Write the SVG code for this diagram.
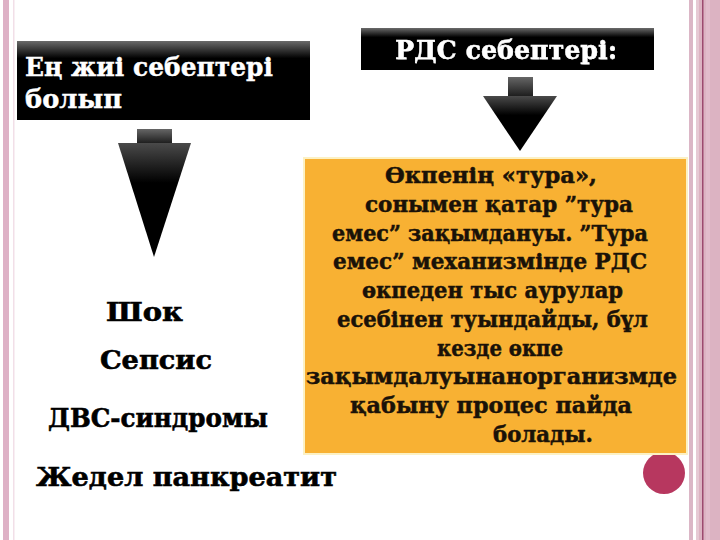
<svg xmlns="http://www.w3.org/2000/svg" width="720" height="540" viewBox="0 0 720 540">
<defs>
<linearGradient id="boxg" x1="0" y1="0" x2="0" y2="1">
<stop offset="0" stop-color="#6a6a6a"/>
<stop offset="0.22" stop-color="#000"/>
<stop offset="1" stop-color="#000"/>
</linearGradient>
<linearGradient id="stemg" x1="0" y1="0" x2="0" y2="1">
<stop offset="0" stop-color="#666"/>
<stop offset="1" stop-color="#1a1a1a"/>
</linearGradient>
<linearGradient id="trig" x1="0" y1="0" x2="0" y2="1">
<stop offset="0" stop-color="#4a4a4a"/>
<stop offset="0.35" stop-color="#000"/>
<stop offset="1" stop-color="#000"/>
</linearGradient>
<filter id="sh" x="-5%" y="-20%" width="110%" height="140%">
<feDropShadow dx="1.5" dy="1.5" stdDeviation="0.6" flood-color="#000" flood-opacity="1"/>
</filter>
</defs>
<style>
.t{font-family:"DejaVu Serif","Liberation Serif","Times New Roman",serif;font-weight:bold}
.w{fill:#fff;stroke:#fff;stroke-width:0.4}
.o{fill:#1a1208;stroke:#1a1208;stroke-width:0.5;font-size:22px}
.l{font-size:26px;fill:#000;stroke:#000;stroke-width:0.6}
</style>
<rect x="0" y="0" width="720" height="540" fill="#fff"/>
<g id="borders">
<rect x="3" y="0" width="6" height="540" fill="#deb1c6"/>
<rect x="13" y="0" width="1.5" height="540" fill="#f2dfe8"/>
<rect x="689" y="0" width="4" height="540" fill="#dbb6c6"/>
<rect x="696" y="0" width="24" height="540" fill="#dcb3c2"/>
<rect x="696" y="0" width="3" height="540" fill="#e6c9d4"/>
<rect x="702" y="0" width="1.5" height="540" fill="#9c4a6e"/>
<rect x="706" y="0" width="4" height="540" fill="#e2bccb"/>
</g>
<g id="circle"><circle cx="664" cy="473" r="21" fill="#b7375f"/></g>
<g id="box-left">
<rect x="17" y="41" width="293" height="79" fill="url(#boxg)"/>
<text class="t w" x="25" y="76" font-size="26" textLength="248" lengthAdjust="spacingAndGlyphs">Ең жиі себептері</text>
<text class="t w" x="25" y="108" font-size="26" textLength="97" lengthAdjust="spacingAndGlyphs">болып</text>
</g>
<g id="box-right">
<rect x="361" y="28" width="293" height="42" fill="url(#boxg)"/>
<text class="t w" x="395" y="59" font-size="26" filter="url(#sh)" textLength="222" lengthAdjust="spacingAndGlyphs">РДС себептері:</text>
</g>
<g id="connectors">
<g id="arrow-left">
<rect x="137" y="129" width="35" height="15" fill="url(#stemg)"/>
<polygon points="118,143 191,143 154,257" fill="url(#trig)"/>
</g>
<g id="arrow-right">
<rect x="508" y="77" width="25" height="20" fill="url(#stemg)"/>
<polygon points="483,96 557,96 520,151" fill="url(#trig)"/>
</g>
</g>
<g id="orange-box">
<rect x="303" y="157" width="385" height="298" fill="#fcf1c4"/>
<rect x="305" y="159" width="381" height="294" fill="#f8b133"/>
<text class="t o" x="385" y="183" textLength="212" lengthAdjust="spacingAndGlyphs">Өкпенің «тура»,</text>
<text class="t o" x="365" y="212" textLength="268" lengthAdjust="spacingAndGlyphs">сонымен қатар ”тура</text>
<text class="t o" x="332" y="241" textLength="316" lengthAdjust="spacingAndGlyphs">емес” зақымдануы. ”Тура</text>
<text class="t o" x="333" y="269" textLength="314" lengthAdjust="spacingAndGlyphs">емес” механизмінде РДС</text>
<text class="t o" x="362" y="298" textLength="261" lengthAdjust="spacingAndGlyphs">өкпеден тыс аурулар</text>
<text class="t o" x="337" y="327" textLength="311" lengthAdjust="spacingAndGlyphs">есебінен туындайды, бұл</text>
<text class="t o" x="437" y="356" textLength="126" lengthAdjust="spacingAndGlyphs">кезде өкпе</text>
<text class="t o" x="306" y="384" textLength="371" lengthAdjust="spacingAndGlyphs">зақымдалуынанорганизмде</text>
<text class="t o" x="350" y="413" textLength="282" lengthAdjust="spacingAndGlyphs">қабыну процес пайда</text>
<text class="t o" x="493" y="442" textLength="100" lengthAdjust="spacingAndGlyphs">болады.</text>
</g>
<g id="list">
<text class="t l" x="106" y="321" textLength="77" lengthAdjust="spacingAndGlyphs">Шок</text>
<text class="t l" x="100" y="369" textLength="112" lengthAdjust="spacingAndGlyphs">Сепсис</text>
<text class="t l" x="48" y="427" textLength="220" lengthAdjust="spacingAndGlyphs">ДВС-синдромы</text>
<text class="t l" x="36" y="486" font-size="29" textLength="301" lengthAdjust="spacingAndGlyphs">Жедел панкреатит</text>
</g>
</svg>
